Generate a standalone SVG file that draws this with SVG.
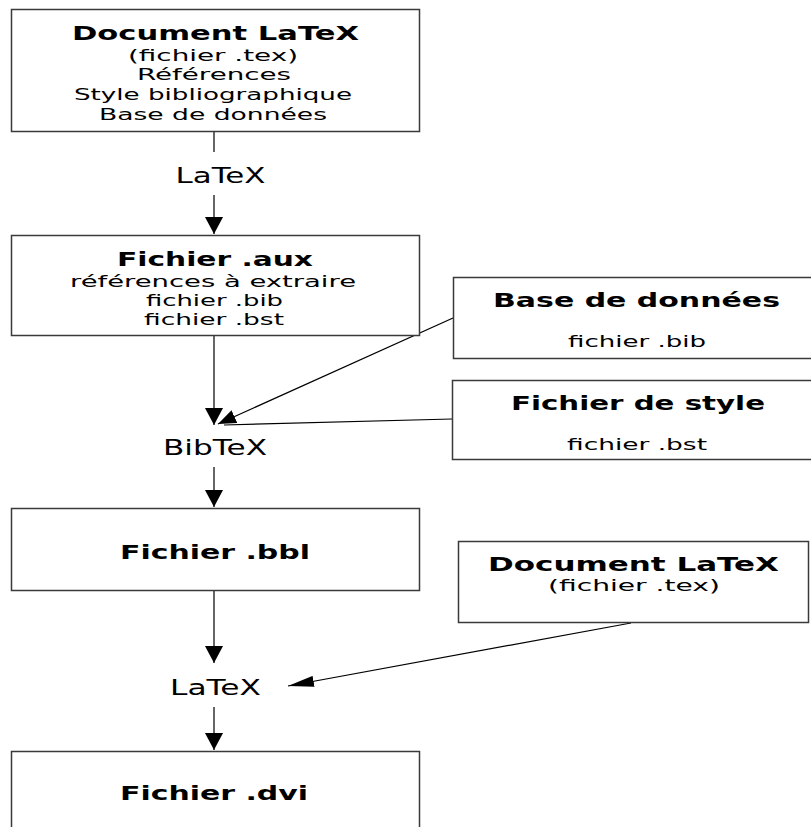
<svg xmlns="http://www.w3.org/2000/svg" width="811" height="827" viewBox="0 0 811 827">
<style>
.box{fill:#fff;stroke:#3a3a3a;stroke-width:1.5}
.t{font-family:"DejaVu Sans","Liberation Sans",sans-serif;font-size:15px;fill:#000;text-anchor:middle}
.b{font-family:"DejaVu Sans","Liberation Sans",sans-serif;font-size:20px;font-weight:bold;fill:#000;text-anchor:middle}
.l{font-family:"DejaVu Sans","Liberation Sans",sans-serif;font-size:21px;fill:#000;text-anchor:middle}
.c{stroke:#000;stroke-width:1.2;fill:none}
</style>
<defs>
<marker id="arr" markerUnits="userSpaceOnUse" viewBox="0 0 17 18" refX="17" refY="9" markerWidth="17" markerHeight="18" orient="auto"><path d="M0,0 L17,9 L0,18 z" fill="#000"/></marker>
<marker id="arr2" markerUnits="userSpaceOnUse" viewBox="0 0 18 14" refX="18" refY="7" markerWidth="18" markerHeight="14" orient="auto"><path d="M0,0 L18,7 L0,14 z" fill="#000"/></marker>
<marker id="arr3" markerUnits="userSpaceOnUse" viewBox="0 0 26 11" refX="26" refY="5.5" markerWidth="26" markerHeight="11" orient="auto"><path d="M0,0 L26,5.5 L0,11 z" fill="#000"/></marker>
</defs>
<rect width="811" height="827" fill="#fff"/>
<g id="connectors">
<line class="c" x1="214" y1="132" x2="214" y2="152"/>
<line class="c" x1="214" y1="195" x2="214" y2="234" marker-end="url(#arr)"/>
<line class="c" x1="214" y1="336" x2="214" y2="425" marker-end="url(#arr)"/>
<line class="c" x1="453" y1="318" x2="218" y2="424" marker-end="url(#arr2)"/>
<line class="c" x1="452" y1="419" x2="224" y2="425"/>
<line class="c" x1="214" y1="467" x2="214" y2="507" marker-end="url(#arr)"/>
<line class="c" x1="214" y1="591" x2="214" y2="663" marker-end="url(#arr)"/>
<line class="c" x1="631" y1="623" x2="288" y2="686" marker-end="url(#arr3)"/>
<line class="c" x1="214" y1="707" x2="214" y2="750" marker-end="url(#arr)"/>
</g>
<g id="label-latex1"><text class="l" x="220.5" y="183" textLength="90" lengthAdjust="spacingAndGlyphs">LaTeX</text></g>
<g id="label-bibtex"><text class="l" x="215" y="455" textLength="104" lengthAdjust="spacingAndGlyphs">BibTeX</text></g>
<g id="label-latex2"><text class="l" x="215.5" y="695" textLength="91" lengthAdjust="spacingAndGlyphs">LaTeX</text></g>
<g id="doc-latex">
<rect class="box" x="11.5" y="9.5" width="408" height="122"/>
<text class="b" x="215.5" y="40" textLength="287" lengthAdjust="spacingAndGlyphs">Document LaTeX</text>
<text class="t" x="213" y="61" textLength="170" lengthAdjust="spacingAndGlyphs">(fichier .tex)</text>
<text class="t" x="214" y="80" textLength="154" lengthAdjust="spacingAndGlyphs">Références</text>
<text class="t" x="213" y="100" textLength="278" lengthAdjust="spacingAndGlyphs">Style bibliographique</text>
<text class="t" x="213" y="119.5" textLength="228" lengthAdjust="spacingAndGlyphs">Base de données</text>
</g>
<g id="aux">
<rect class="box" x="11.5" y="235.5" width="408" height="100"/>
<text class="b" x="215" y="266" textLength="196" lengthAdjust="spacingAndGlyphs">Fichier .aux</text>
<text class="t" x="213" y="287" textLength="286" lengthAdjust="spacingAndGlyphs">références à extraire</text>
<text class="t" x="214.5" y="306" textLength="137" lengthAdjust="spacingAndGlyphs">fichier .bib</text>
<text class="t" x="214" y="325" textLength="140" lengthAdjust="spacingAndGlyphs">fichier .bst</text>
</g>
<g id="bib">
<rect class="box" x="453.5" y="277.5" width="362" height="81"/>
<text class="b" x="636.5" y="307" textLength="287" lengthAdjust="spacingAndGlyphs">Base de données</text>
<text class="t" x="637" y="347" textLength="138" lengthAdjust="spacingAndGlyphs">fichier .bib</text>
</g>
<g id="bst">
<rect class="box" x="452.5" y="380.5" width="363" height="79"/>
<text class="b" x="638" y="410" textLength="254" lengthAdjust="spacingAndGlyphs">Fichier de style</text>
<text class="t" x="637" y="450" textLength="140" lengthAdjust="spacingAndGlyphs">fichier .bst</text>
</g>
<g id="bbl">
<rect class="box" x="11.5" y="508.5" width="408" height="82"/>
<text class="b" x="215" y="559" textLength="190" lengthAdjust="spacingAndGlyphs">Fichier .bbl</text>
</g>
<g id="doc-latex-2">
<rect class="box" x="458.5" y="541.5" width="350" height="81"/>
<text class="b" x="633.5" y="571" textLength="291" lengthAdjust="spacingAndGlyphs">Document LaTeX</text>
<text class="t" x="634" y="591" textLength="172" lengthAdjust="spacingAndGlyphs">(fichier .tex)</text>
</g>
<g id="dvi">
<rect class="box" x="11.5" y="751.5" width="408" height="100"/>
<text class="b" x="214" y="800" textLength="188" lengthAdjust="spacingAndGlyphs">Fichier .dvi</text>
</g>
</svg>
